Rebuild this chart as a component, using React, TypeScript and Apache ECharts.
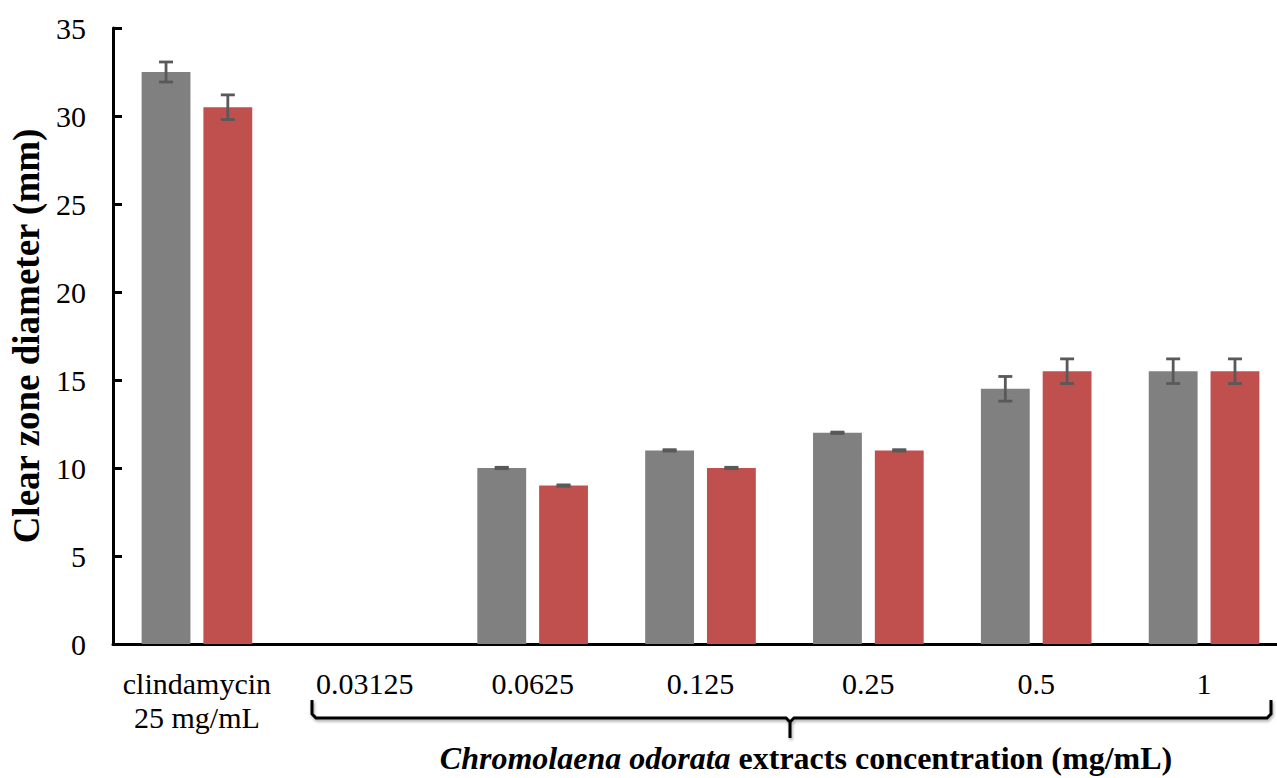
import React, { useEffect, useRef } from "react";
import * as echarts from "echarts";

const categories = ["clindamycin\n25 mg/mL", "0.03125", "0.0625", "0.125", "0.25", "0.5", "1"];
const grayValues = [32.5, 0, 10, 11, 12, 14.5, 15.5];
const grayErrors = [0.57, 0, 0.04, 0.04, 0.04, 0.7, 0.7];
const redValues = [30.5, 0, 9, 10, 11, 15.5, 15.5];
const redErrors = [0.7, 0, 0.04, 0.04, 0.04, 0.7, 0.7];
const yTicks = [0, 5, 10, 15, 20, 25, 30, 35];

const FONT = "'Liberation Serif', 'Times New Roman', serif";
const BAR_W = 0.291;
const GAP = 0.265;
const OFFSET = (BAR_W + BAR_W * GAP) / 2;

function errorSeries(values: number[], errors: number[], sign: number) {
  return {
    type: "custom",
    silent: true,
    z: 10,
    data: values.map((v, i) => [i, v, errors[i]]),
    renderItem: (params: any, api: any) => {
      const i = api.value(0);
      const v = api.value(1);
      const e = api.value(2);
      if (v === 0) return null;
      const band = api.size([1, 0])[0];
      const c = api.coord([i, v]);
      const x = c[0] + sign * OFFSET * band;
      const top = api.coord([i, v + e])[1];
      const bot = api.coord([i, v - e])[1];
      const cap = 7;
      const style = { stroke: "#595959", lineWidth: 2.8, fill: "none" };
      return {
        type: "group",
        children: [
          { type: "line", shape: { x1: x, y1: top, x2: x, y2: bot }, style },
          { type: "line", shape: { x1: x - cap, y1: top, x2: x + cap, y2: top }, style },
          { type: "line", shape: { x1: x - cap, y1: bot, x2: x + cap, y2: bot }, style },
        ],
      };
    },
  };
}

export default function App() {
  const ref = useRef<HTMLDivElement>(null);
  useEffect(() => {
    if (!ref.current) return;
    const chart = echarts.init(ref.current, undefined, { renderer: "svg" });
    chart.setOption({
      animation: false,
      backgroundColor: "#ffffff",
      textStyle: { fontFamily: FONT },
      grid: { left: 110, top: 28, width: 1178, bottom: 134, containLabel: false },
      xAxis: {
        type: "category",
        data: categories,
        axisLine: { lineStyle: { color: "#000", width: 3 } },
        axisTick: { show: false },
        axisLabel: { color: "#000", fontSize: 30, fontFamily: FONT, margin: 22, lineHeight: 34, interval: 0 },
      },
      yAxis: {
        type: "value",
        min: 0,
        max: 35,
        interval: 5,
        name: "Clear zone diameter (mm)",
        nameLocation: "middle",
        nameGap: 68,
        nameTextStyle: { color: "#000", fontSize: 37, fontWeight: "bold", fontFamily: FONT },
        splitLine: { show: false },
        axisLine: { show: true, lineStyle: { color: "#000", width: 3 } },
        axisTick: { show: true, inside: true, length: 9, lineStyle: { color: "#000", width: 3 } },
        axisLabel: {
          color: "#000",
          fontSize: 30,
          fontFamily: FONT,
          margin: 27,
          formatter: (v: number) => (yTicks.includes(v) ? String(v) : ""),
        },
      },
      series: [
        {
          type: "bar",
          data: grayValues,
          barWidth: "29.1%",
          barGap: "26.5%",
          itemStyle: { color: "#808080" },
        },
        {
          type: "bar",
          data: redValues,
          barWidth: "29.1%",
          barGap: "26.5%",
          itemStyle: { color: "#C0504D" },
        },
        errorSeries(grayValues, grayErrors, -1),
        errorSeries(redValues, redErrors, 1),
      ],
      graphic: [
        {
          type: "polyline",
          shape: {
            points: [
              [312, 700],
              [312, 714],
              [316, 718],
              [786, 718],
              [790, 722],
              [790, 738],
              [790, 722],
              [794, 718],
              [1267, 718],
              [1271, 714],
              [1271, 700],
            ],
          },
          style: { stroke: "#000", lineWidth: 3, fill: "none", shadowBlur: 3, shadowColor: "rgba(0,0,0,0.35)", shadowOffsetX: 1, shadowOffsetY: 2 },
        },
        {
          type: "text",
          x: 806,
          y: 758,
          style: {
            text: "{i|Chromolaena odorata }{b|extracts concentration (mg/mL)}",
            align: "center",
            verticalAlign: "middle",
            rich: {
              i: { fontSize: 32, lineHeight: 34, fontWeight: "bold", fontStyle: "italic", fontFamily: FONT, fill: "#000" },
              b: { fontSize: 32, lineHeight: 34, fontWeight: "bold", fontFamily: FONT, fill: "#000" },
            },
          },
        },
      ],
    });
    return () => chart.dispose();
  }, []);
  return (
    <div style={{ position: "fixed", left: 0, top: 0, width: 1277, height: 778, overflow: "hidden", background: "#fff" }}>
      <div ref={ref} style={{ width: 1300, height: 778 }} />
    </div>
  );
}
